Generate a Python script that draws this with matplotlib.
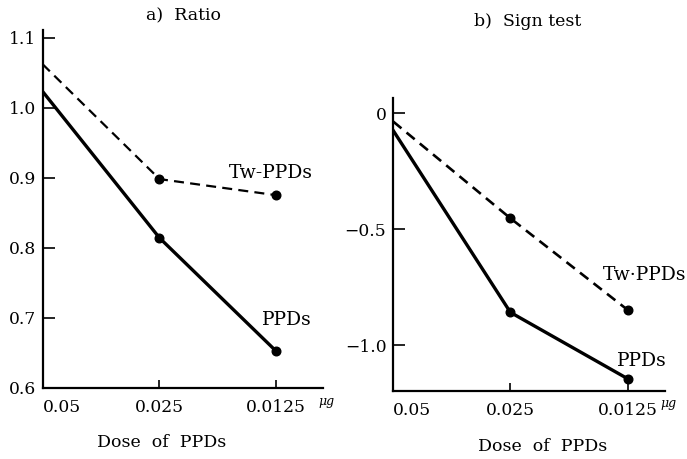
import matplotlib
matplotlib.use("Agg")
import matplotlib.pyplot as plt

# ---- data ----
doses = ["0.05", "0.025", "0.0125"]
xpos = [0, 1, 2]

ratio_tw = [1.062, 0.898, 0.875]
ratio_ppd = [1.023, 0.814, 0.652]
ratio_ticks = [0.6, 0.7, 0.8, 0.9, 1.0, 1.1]
ratio_ticklabels = ["0.6", "0.7", "0.8", "0.9", "1.0", "1.1"]

sign_tw = [-0.036, -0.453, -0.848]
sign_ppd = [-0.075, -0.859, -1.145]
sign_ticks = [-1.0, -0.5, 0.0]
sign_ticklabels = ["\u22121.0", "\u22120.5", "0"]

W, H = 687, 459
fig = plt.figure(figsize=(W / 100, H / 100), dpi=100)
plt.rcParams['font.family'] = ['DejaVu Serif']
FS = 12.3

def px(x0, y_top, x1, y_bot):
    return [x0 / W, 1 - y_bot / H, (x1 - x0) / W, (y_bot - y_top) / H]

axL = fig.add_axes(px(42.7, 30, 323, 387.7))
axR = fig.add_axes(px(393.3, 98, 665, 390.7))

def style(ax):
    for s in ("top", "right"):
        ax.spines[s].set_visible(False)
    for s in ("left", "bottom"):
        ax.spines[s].set_linewidth(1.6)
    ax.tick_params(axis="y", direction="in", length=8.5, width=1.2, pad=5, labelsize=FS)
    ax.tick_params(axis="x", direction="in", length=5.5, width=1.2, pad=8, labelsize=FS)
    ax.set_xticks(xpos)
    ax.set_xticklabels(doses)
    ax.get_xticklabels()[0].set_horizontalalignment("left")

MS = 6.2

# Left: Ratio
style(axL)
axL.plot(xpos, ratio_tw, color="black", lw=1.6, ls=(0, (4.5, 2.8)))
axL.plot(xpos[1:], ratio_tw[1:], "o", color="black", ms=MS)
axL.plot(xpos, ratio_ppd, color="black", lw=2.4)
axL.plot(xpos[1:], ratio_ppd[1:], "o", color="black", ms=MS)
axL.set_xlim(0, 2.4)
axL.set_ylim(0.6, 1.111)
axL.set_yticks(ratio_ticks)
axL.set_yticklabels(ratio_ticklabels)
axL.text(1.957, 0.906, "Tw-PPDs", ha="center", va="center", fontsize=13.5)
axL.text(2.09, 0.697, "PPDs", ha="center", va="center", fontsize=13.5)

# Right: Sign test
style(axR)
axR.plot(xpos, sign_tw, color="black", lw=1.9, ls=(0, (4, 2.5)))
axR.plot(xpos[1:], sign_tw[1:], "o", color="black", ms=MS)
axR.plot(xpos, sign_ppd, color="black", lw=2.4)
axR.plot(xpos[1:], sign_ppd[1:], "o", color="black", ms=MS)
axR.set_xlim(0, 2.32)
axR.set_ylim(-1.197, 0.066)
axR.set_yticks(sign_ticks)
axR.set_yticklabels(sign_ticklabels)
axR.text(2.15, -0.697, "Tw\u00b7PPDs", ha="center", va="center", fontsize=13.5)
axR.text(2.12, -1.071, "PPDs", ha="center", va="center", fontsize=13.5)

# titles, axis titles, unit
def ftext(x, y, s, **kw):
    fig.text(x / W, 1 - y / H, s, ha=kw.pop("ha", "center"), va=kw.pop("va", "center"), **kw)

ftext(183, 16, "a)  Ratio", fontsize=12.5)
ftext(528, 21.7, "b)  Sign test", fontsize=12.5)
ftext(162, 442.7, "Dose  of  PPDs", fontsize=12.5)
ftext(543, 446.7, "Dose  of  PPDs", fontsize=12.5)
ftext(318, 402, "\u03bcg", fontsize=9, style="italic", ha="left")
ftext(660, 404, "\u03bcg", fontsize=9, style="italic", ha="left")

fig.savefig("out.png", dpi=100)
